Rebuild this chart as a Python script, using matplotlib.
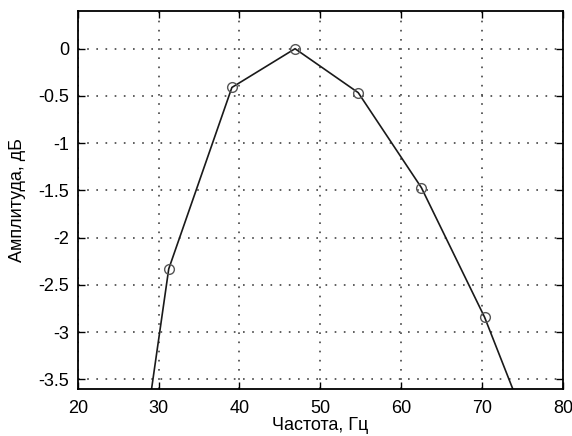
import matplotlib
matplotlib.use('Agg')
import matplotlib.pyplot as plt

# spectrum bins (Fs/N = 7.8125 Hz), first and last fall outside the y-range
freq = [23.4375, 31.25, 39.0625, 46.875, 54.6875, 62.5, 70.3125, 78.125]
ampl = [-7.0, -2.33, -0.41, 0.0, -0.465, -1.47, -2.84, -4.54]

xticks = [20, 30, 40, 50, 60, 70, 80]
yticks = [0, -0.5, -1, -1.5, -2, -2.5, -3, -3.5]

plt.rcParams['font.family'] = ['Liberation Sans', 'DejaVu Sans']
plt.rcParams['font.size'] = 13

fig = plt.figure(figsize=(5.72, 4.36), dpi=100)
ax = fig.add_axes([0.136, 0.108, 0.848, 0.867])

ax.plot(freq, ampl, color='#1a1a1a', lw=1.2, marker='o', ms=7,
        mfc='none', mec='#555555', mew=1.0)

ax.set_xlim(20, 80)
ax.set_ylim(-3.6, 0.4)
ax.set_xticks(xticks)
ax.set_yticks(yticks)
ax.set_yticklabels(['0', '-0.5', '-1', '-1.5', '-2', '-2.5', '-3', '-3.5'])

ax.grid(True, color='#444444', linestyle=(0, (1, 4.5)), lw=1.2)
ax.tick_params(direction='in', top=True, right=True, length=5, width=1.0,
               labelsize=13)
ax.tick_params(axis='x', pad=8)
ax.tick_params(axis='y', pad=6)
for s in ax.spines.values():
    s.set_linewidth(1.3)

ax.set_xlabel('Частота, Гц', fontsize=13, labelpad=0)
ax.set_ylabel('Амплитуда, дБ', fontsize=13, labelpad=9)

fig.savefig('out.png', dpi=100)
